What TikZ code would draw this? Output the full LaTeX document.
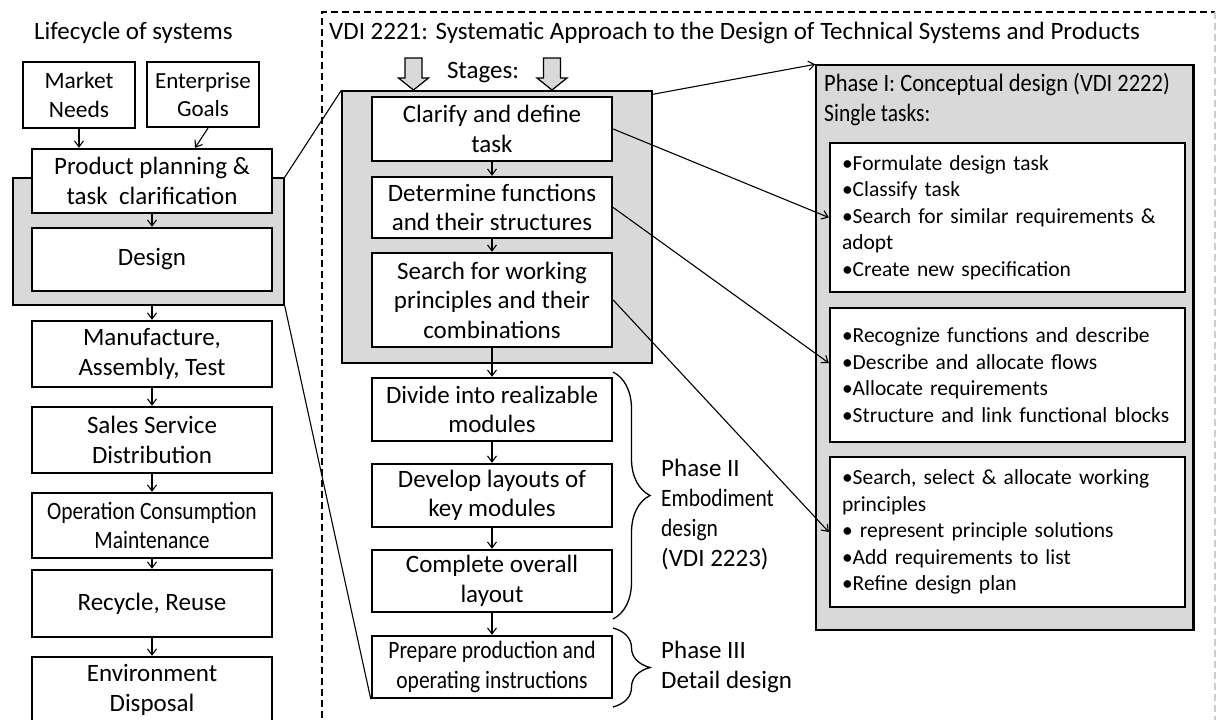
\documentclass[tikz,border=0pt]{standalone}
\usepackage{fontspec}
\setmainfont{Carlito}
\newfontfamily\cond[FakeStretch=0.86]{Carlito}
\usetikzlibrary{arrows.meta,decorations.pathreplacing,calc}
\definecolor{panelgray}{RGB}{217,217,217}
\begin{document}
\begin{tikzpicture}[x=1pt,y=-1pt,
  font=\fontsize{25}{29.5}\selectfont,
  box/.style={draw,line width=2.4pt,fill=white,align=center,inner sep=0pt,minimum width=240,minimum height=#1},
  graybox/.style={draw,line width=1.4pt,fill=panelgray,inner sep=0pt},
  rbox/.style={draw,line width=2.4pt,fill=white,align=left,inner xsep=12pt,inner ysep=0pt,text width=331,minimum width=355,
     font=\fontsize{21.5}{26.5}\selectfont},
  conn/.style={-{Straight Barb[length=6pt,width=9pt]},line width=1.1pt},
  link/.style={line width=1.1pt},
  label/.style={inner sep=0pt,align=left}]
\useasboundingbox (0,0) rectangle (1216,720);
\clip (0,0) rectangle (1216,720);
\fill[white] (0,0) rectangle (1216,720);

% dashed frame
\draw[dash pattern=on 7pt off 4pt,line width=1.5pt] (322,740) -- (322,12) -- (1215,12);
\draw[dash pattern=on 7pt off 4pt,line width=1.5pt,gray!40] (1215,12) -- (1215,740);

% titles
\node[label,anchor=west] (t1) at (34,33) {Lifecycle of systems};
\node[label,anchor=west] (t2) at (329,33) {VDI 2221: Systematic Approach to the Design of Technical Systems and Products};

% gray panels
\node[graybox,minimum width=271,minimum height=127] (g1) at (148.5,241.5) {};
\node[graybox,minimum width=310,minimum height=272] (g2) at (497,227) {};
\node[graybox,minimum width=377,minimum height=565] (g3) at (1004.5,347.5) {};
\draw[line width=2.2pt] (g3.north east) -- (g3.south east);

% left column
\node[box=66,minimum width=112,font=\fontsize{23.5}{28.5}\selectfont] (market) at (79,95) {Market\\Needs};
\node[box=65,minimum width=112,font=\fontsize{23}{28.5}\selectfont] (ent) at (203,94.5) {Enterprise\\Goals};
\node[box=64] (prod) at (152,181) {Product planning \&\\task\ \ clarification};
\node[box=63] (design) at (152,259.5) {Design};
\node[box=66] (manuf) at (152,354) {Manufacture,\\Assembly, Test};
\node[box=66] (sales) at (152,440) {Sales Service\\Distribution};
\node[box=65] (oper) at (152,525.5) {{\cond Operation Consumption}\\{\cond Maintenance}};
\node[box=67] (recyc) at (152,603.5) {Recycle, Reuse};
\node[box=66] (env) at (152,690) {Environment\\Disposal};

\draw[conn] (market.south) -- (market.south |- prod.north);
\draw[conn] ($(ent.south)+(5,0)$) -- ($(prod.north)+(43,0)$);
\draw[conn] (prod.south) -- (design.north);
\draw[conn] (g1.south -| design.south) -- (manuf.north);
\draw[conn] (manuf.south) -- (sales.north);
\draw[conn] (sales.south) -- (oper.north);
\draw[conn] (oper.south) -- (recyc.north);
\draw[conn] (recyc.south) -- (env.north);

% middle column
\foreach \cx in {413.5,552}{
  \filldraw[fill=panelgray,line width=1.2pt] (\cx-8.5,58) -- (\cx+8.5,58) -- (\cx+8.5,78) -- (\cx+15,78)
     -- (\cx,90) -- (\cx-15,78) -- (\cx-8.5,78) -- cycle;
}
\node[label] (stages) at (483,73) {Stages:};

\node[box=64] (clar) at (492,129) {Clarify and define\\task};
\node[box=61] (det) at (492,207.5) {Determine functions\\and their structures};
\node[box=94] (search) at (492,300) {Search for working\\principles and their\\combinations};
\node[box=63] (divide) at (492,409.5) {Divide into realizable\\modules};
\node[box=63] (develop) at (492,495.5) {Develop layouts of\\key modules};
\node[box=62] (complete) at (492,581) {Complete overall\\layout};
\node[box=62] (prep) at (492,667) {{\cond Prepare production and}\\{\cond operating instructions}};

\draw[conn] (clar.south) -- (det.north);
\draw[conn] (det.south) -- (search.north);
\draw[conn] (search.south) -- (divide.north);
\draw[conn] (divide.south) -- (develop.north);
\draw[conn] (develop.south) -- (complete.north);
\draw[conn] (complete.south) -- (prep.north);

% braces and phase labels
\coordinate (b2a) at (613,372);
\coordinate (b2b) at (613,619);
\coordinate (b3a) at (613,628);
\coordinate (b3b) at (613,707);
\draw[line width=1.3pt,decorate,decoration={brace,amplitude=37pt}] (b2a) -- (b2b);
\draw[line width=1.3pt,decorate,decoration={brace,amplitude=37pt}] (b3a) -- (b3b);
\node[label,anchor=west,font=\fontsize{25}{30}\selectfont] (ph2) at (661,515) {Phase II\\{\cond Embodiment}\\{\cond design}\\(VDI 2223)};
\node[label,anchor=west,font=\fontsize{25}{30}\selectfont] (ph3) at (661,667) {Phase III\\Detail design};

% right panel
\node[label,anchor=west,font=\fontsize{25}{30}\selectfont] (ph1) at (824,100) {{\fontspec{Carlito}[FakeStretch=0.9]Phase I: Conceptual design (VDI 2222)}\\{\cond Single tasks:}};
\node[rbox,minimum height=149] (b1) at (1007.5,217.5) {•Formulate design task\\•Classify task\\•Search for similar requirements \&\\adopt\\•Create new specification};
\node[rbox,minimum height=134] (b2) at (1007.5,375) {•Recognize functions and describe\\•Describe and allocate flows\\•Allocate requirements\\•Structure and link functional blocks};
\node[rbox,minimum height=150] (b3) at (1007.5,532) {•Search, select \& allocate working\\principles\\• represent principle solutions\\•Add requirements to list\\•Refine design plan};

% links between panels
\draw[link] (g1.north east) -- (g2.north west);
\draw[link] (g1.south east) -- (prep.south west);
\draw[conn] ($(g2.north east)+(0,4)$) -- (g3.north west);
\draw[conn] (clar.east) -- (b1.west);
\draw[conn] (det.east) -- ($(b2.west)+(0,-12)$);
\draw[conn] (search.east) -- (b3.west);
\end{tikzpicture}
\end{document}
